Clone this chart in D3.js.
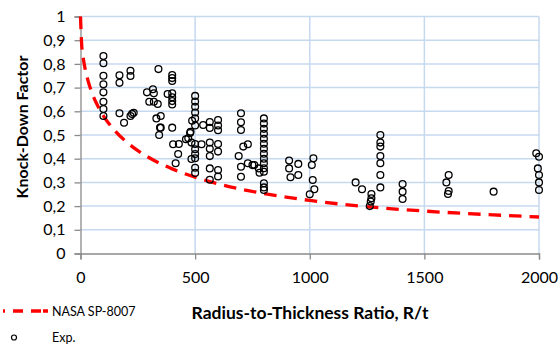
<!DOCTYPE html>
<html>
<head>
<meta charset="utf-8">
<script src="https://cdn.jsdelivr.net/npm/d3@7"></script>
<style>
  html, body { margin: 0; padding: 0; background: #fff; }
  svg { display: block; font-family: Lato, "Open Sans", sans-serif; }
</style>
</head>
<body>
<svg id="chart" width="560" height="347"></svg>
<script>
// Experimental knock-down factors grouped by radius-to-thickness ratio
const expR = [
  100, 100, 100, 100, 100, 100, 100, 100,
  170, 170, 170, 190,
  218, 218, 218, 225, 232,
  290, 300, 316, 320, 320, 331, 337, 340, 343, 347, 350, 350, 380,
  400, 400, 400, 400, 400, 400, 400, 400,
  404, 415, 426, 429, 460, 470, 478, 480, 484, 484, 487,
  500, 500, 500, 500, 500, 500, 500, 500, 500, 500, 500, 500,
  528, 535,
  564, 564, 564, 564, 564, 564, 564,
  600, 600, 600, 600, 600, 600, 600,
  700, 700, 700, 690, 700, 700, 710, 730, 730, 750, 758, 778, 781,
  800, 800, 800, 800, 800, 800, 800, 800, 800, 800, 800, 800, 800, 800, 800,
  910, 910, 916, 950, 950,
  1016, 1009, 1013, 1020, 1000,
  1200, 1228, 1269, 1269, 1266, 1262,
  1308, 1308, 1308, 1308, 1308, 1308, 1308,
  1405, 1405, 1405,
  1606, 1596, 1606, 1603,
  1802,
  1988, 2000, 1995, 2000, 2000, 2000
];
const expK = [
  0.833, 0.803, 0.750, 0.714, 0.680, 0.640, 0.610, 0.580,
  0.752, 0.720, 0.592, 0.552,
  0.771, 0.749, 0.580, 0.589, 0.594,
  0.680, 0.640, 0.693, 0.676, 0.640, 0.570, 0.631, 0.778, 0.500, 0.531, 0.580, 0.531, 0.673,
  0.753, 0.740, 0.728, 0.676, 0.659, 0.643, 0.629, 0.531,
  0.461, 0.381, 0.420, 0.462, 0.482, 0.486, 0.508, 0.514, 0.468, 0.399, 0.560,
  0.665, 0.641, 0.619, 0.595, 0.570, 0.540, 0.462, 0.440, 0.420, 0.402, 0.362, 0.340,
  0.461, 0.542,
  0.555, 0.530, 0.468, 0.442, 0.411, 0.359, 0.311,
  0.563, 0.540, 0.520, 0.462, 0.430, 0.352, 0.325,
  0.592, 0.554, 0.521, 0.411, 0.366, 0.324, 0.451, 0.461, 0.381, 0.373, 0.373, 0.359, 0.341,
  0.570, 0.548, 0.526, 0.505, 0.484, 0.463, 0.442, 0.421, 0.400, 0.381, 0.360, 0.345, 0.296, 0.279, 0.268,
  0.392, 0.359, 0.322, 0.378, 0.331,
  0.402, 0.373, 0.310, 0.271, 0.250,
  0.300, 0.271, 0.251, 0.233, 0.219, 0.200,
  0.500, 0.468, 0.451, 0.411, 0.381, 0.331, 0.279,
  0.293, 0.261, 0.230,
  0.331, 0.300, 0.264, 0.251,
  0.261,
  0.423, 0.408, 0.359, 0.331, 0.300, 0.268
];

// NASA SP-8007 design curve, sampled along R/t
const nasaR = [0, 5, 10, 20, 30, 50, 75, 100, 150, 200, 300, 400, 500, 600, 800, 1000, 1200, 1500, 1800, 2000];
const nasaK = [1.0, 0.883, 0.839, 0.780, 0.739, 0.678, 0.623, 0.581, 0.518, 0.471, 0.404, 0.357, 0.322, 0.294, 0.253, 0.224, 0.202, 0.179, 0.163, 0.154];

const xTicks = [0, 500, 1000, 1500, 2000];
const yTicks = [0, 0.1, 0.2, 0.3, 0.4, 0.5, 0.6, 0.7, 0.8, 0.9, 1];

const xTitle = "Radius-to-Thickness Ratio, R/t";
const yTitle = "Knock-Down Factor";
const legendNames = ["NASA SP-8007", "Exp."];

const svg = d3.select("#chart");
const x = d3.scaleLinear().domain([0, 2000]).range([80.5, 539]);
const y = d3.scaleLinear().domain([0, 1]).range([253.5, 16.5]);

const gridColor = "#c6d9ef";
const axisColor = "#8a8a8a";
const fmt = v => d3.format(".1~f")(v).replace(".", ",");

// gridlines
svg.append("g").selectAll("line.h")
  .data(yTicks.filter(d => d > 0))
  .join("line")
  .attr("x1", x(0)).attr("x2", x(2000))
  .attr("y1", d => y(d)).attr("y2", d => y(d))
  .attr("stroke", gridColor).attr("stroke-width", 1.5);
svg.append("g").selectAll("line.v")
  .data(xTicks.filter(d => d > 0))
  .join("line")
  .attr("x1", d => x(d)).attr("x2", d => x(d))
  .attr("y1", y(0)).attr("y2", y(1))
  .attr("stroke", gridColor).attr("stroke-width", 1.5);

// axes
const xAxis = svg.append("g")
  .attr("transform", `translate(0,${y(0)})`)
  .call(d3.axisBottom(x).tickValues(xTicks).tickSize(6).tickPadding(10).tickFormat(d3.format("d")));
const yAxis = svg.append("g")
  .attr("transform", `translate(${x(0)},0)`)
  .call(d3.axisLeft(y).tickValues(yTicks).tickSize(6).tickPadding(9).tickFormat(fmt));
[xAxis, yAxis].forEach(g => {
  g.select(".domain").attr("stroke", axisColor).attr("stroke-width", 1.3);
  g.selectAll(".tick line").attr("stroke", axisColor).attr("stroke-width", 1.3);
  g.selectAll(".tick text").attr("fill", "#000").attr("font-size", 16)
    .attr("font-family", "Lato, sans-serif");
});
xAxis.selectAll(".tick text").attr("dy", "0.85em");

// design curve
svg.append("path")
  .datum(nasaR.map((r, i) => [r, nasaK[i]]))
  .attr("d", d3.line().x(d => x(d[0])).y(d => y(d[1])).curve(d3.curveMonotoneX))
  .attr("fill", "none").attr("stroke", "#ff0000").attr("stroke-width", 3.3)
  .attr("stroke-dasharray", "12.5,8");

// experimental points
svg.append("g").selectAll("circle")
  .data(expR.map((r, i) => [r, expK[i]]))
  .join("circle")
  .attr("cx", d => x(d[0])).attr("cy", d => y(d[1])).attr("r", 3.4)
  .attr("fill", "none").attr("stroke", "#000").attr("stroke-width", 1.3);

// axis titles
svg.append("text")
  .attr("x", 310).attr("y", 319)
  .attr("text-anchor", "middle").attr("font-weight", "bold").attr("font-size", 17.5)
  .text(xTitle);
svg.append("text")
  .attr("transform", "translate(28,127) rotate(-90)")
  .attr("text-anchor", "middle").attr("font-weight", "bold").attr("font-size", 16)
  .text(yTitle);

// legend
const lg = svg.append("g");
lg.append("line")
  .attr("x1", 3).attr("x2", 48).attr("y1", 311).attr("y2", 311)
  .attr("stroke", "#ff0000").attr("stroke-width", 3.3).attr("stroke-dasharray", "2,8,10,8,10");
lg.append("text").attr("x", 52).attr("y", 315.5).attr("font-size", 12.5).text(legendNames[0]);
lg.append("circle").attr("cx", 14).attr("cy", 337.5).attr("r", 2.5)
  .attr("fill", "none").attr("stroke", "#000").attr("stroke-width", 1.2);
lg.append("text").attr("x", 52).attr("y", 342).attr("font-size", 12.5).text(legendNames[1]);
</script>
</body>
</html>
